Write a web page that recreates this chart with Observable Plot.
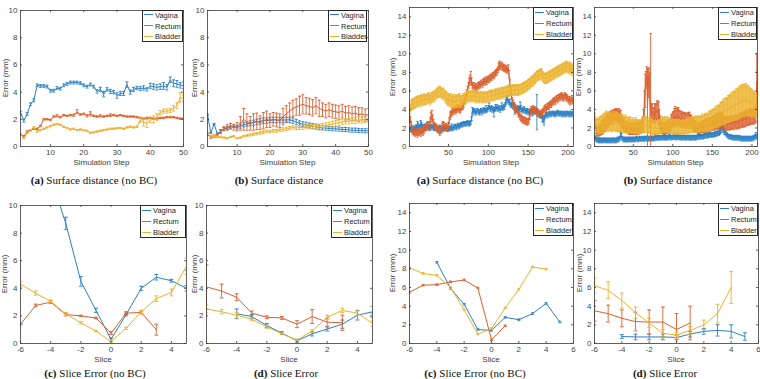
<!DOCTYPE html>
<html><head><meta charset="utf-8">
<script src="https://cdn.jsdelivr.net/npm/d3@7"></script>
<script src="https://cdn.jsdelivr.net/npm/@observablehq/plot@0.6"></script>
<style>
body{margin:0;background:#fff;}
#fig{position:relative;width:760px;height:379px;overflow:hidden;font-family:"Liberation Sans",Arial,sans-serif;background:#fff;}
#fig svg{position:absolute;left:0;top:0;}
.lg{position:absolute;background:#fff;border:1px solid #262626;box-sizing:border-box;font-size:7.5px;color:#262626;}
.lg .row{position:absolute;left:1px;white-space:nowrap;line-height:8px;height:8px;}
.lg .sw{display:inline-block;width:9px;height:1px;vertical-align:middle;margin-right:2px;position:relative;top:-1px;}
.ttl{position:absolute;font-size:8px;color:#404040;white-space:nowrap;transform:translate(-50%,-50%);line-height:1;}
.yl{transform:translate(-50%,-50%) rotate(-90deg);}
.cap{position:absolute;font-family:"Liberation Serif","Times New Roman",serif;font-size:11px;color:#111;white-space:nowrap;transform:translate(-50%,-50%);line-height:1;}
</style></head>
<body><div id="fig"></div>
<script>
const organs = ["Vagina","Rectum","Bladder"];
const colors = ["#2b80c4","#d9602e","#ebb22c"];
const slices = [-6,-5,-4,-3,-2,-1,0,1,2,3,4,5];

// ---- (a) left: surface distance (no BC), 50 steps
const aVag = [2.5,1.9,2.4,3.1,3.4,4.5,4.45,4.45,4.4,4.1, 4.1,4.3,4.25,4.5,4.6,4.7,4.7,4.7,4.65,4.5, 4.4,4.55,4.4,4.05,4.2,3.85,4.2,4.05,4.0,3.75, 3.9,3.9,4.55,4.0,4.2,4.3,4.25,4.3,4.2,4.45, 4.4,4.35,4.4,4.45,4.35,4.9,4.65,4.6,4.5,4.5];
const aVagErr = [0.1,0.1,0.1,0.1,0.1,0.1,0.1,0.1,0.1,0.1, 0.1,0.1,0.1,0.1,0.1,0.1,0.1,0.1,0.1,0.1, 0.1,0.1,0.1,0.12,0.15,0.2,0.12,0.15,0.12,0.2, 0.15,0.15,0.2,0.15,0.15,0.12,0.15,0.15,0.12,0.2, 0.2,0.2,0.2,0.25,0.2,0.2,0.25,0.25,0.2,0.25];
const aRec = [0.9,0.75,1.1,1.2,1.3,1.3,1.5,2.0,2.0,1.95, 2.2,2.25,2.15,2.3,2.25,2.3,2.3,2.55,2.35,2.4, 2.25,2.4,2.25,2.2,2.25,2.2,2.25,2.3,2.3,2.25, 2.3,2.25,2.2,2.2,2.2,2.15,2.1,2.05,2.1,2.1, 2.05,2.05,2.1,2.1,2.15,2.15,2.15,2.1,2.05,2.05];
const aRecErr = [0.05,0.05,0.05,0.05,0.05,0.05,0.05,0.05,0.05,0.05, 0.05,0.08,0.05,0.05,0.05,0.05,0.08,0.15,0.05,0.05, 0.08,0.15,0.05,0.05,0.08,0.05,0.05,0.1,0.05,0.05, 0.05,0.05,0.05,0.05,0.05,0.05,0.05,0.05,0.05,0.05, 0.05,0.05,0.05,0.05,0.05,0.05,0.05,0.05,0.05,0.05];
const aBla = [0.9,0.6,1.0,1.2,1.4,1.1,1.2,1.3,1.4,1.5, 1.6,1.65,1.6,1.45,1.35,1.25,1.3,1.2,1.25,1.2, 1.15,1.0,1.05,1.1,1.15,1.2,1.25,1.3,1.3,1.35, 1.35,1.3,1.4,1.45,1.4,1.45,1.95,1.8,1.7,1.95, 2.0,2.15,2.5,2.6,2.6,2.65,2.8,3.0,3.6,3.55];
const aBlaErr = [0.05,0.05,0.05,0.05,0.05,0.05,0.05,0.05,0.05,0.05, 0.05,0.05,0.05,0.05,0.05,0.05,0.05,0.05,0.05,0.05, 0.05,0.05,0.05,0.05,0.05,0.05,0.05,0.05,0.05,0.05, 0.05,0.05,0.05,0.05,0.05,0.05,0.2,0.3,0.3,0.2, 0.25,0.25,0.15,0.15,0.15,0.15,0.2,0.2,0.35,0.25];

// ---- (b) left: surface distance, 50 steps
const bVag = [2.35,1.0,1.65,0.95,1.1,1.3,1.35,1.4,1.5,1.4, 1.5,1.6,1.65,1.7,1.75,1.8,1.85,1.9,1.9,1.95, 1.95,1.95,1.95,1.95,1.95,1.95,1.9,1.8,1.7,1.65, 1.6,1.55,1.5,1.45,1.4,1.38,1.35,1.32,1.3,1.3, 1.28,1.25,1.25,1.22,1.2,1.2,1.18,1.16,1.15,1.15];
const bVagErr = [0.05,0.05,0.05,0.05,0.08,0.1,0.1,0.1,0.12,0.12, 0.15,0.15,0.15,0.18,0.18,0.2,0.2,0.2,0.2,0.2, 0.2,0.2,0.2,0.2,0.2,0.2,0.2,0.2,0.18,0.18, 0.18,0.18,0.18,0.18,0.18,0.15,0.15,0.15,0.15,0.15, 0.15,0.15,0.15,0.15,0.15,0.15,0.15,0.15,0.15,0.15];
const bRec = [0.9,0.7,0.75,0.8,1.1,1.3,1.4,1.5,1.4,1.45, 1.7,2.0,1.8,1.7,1.8,1.85,1.75,1.9,2.0,1.9, 2.0,1.95,1.9,2.2,2.4,2.6,2.8,2.9,3.0,3.1, 3.0,2.95,2.85,3.0,2.8,2.7,2.6,2.7,2.6,2.55, 2.5,2.6,2.45,2.5,2.4,2.45,2.35,2.4,2.3,2.35];
const bRecErr = [0.1,0.1,0.1,0.1,0.15,0.15,0.2,0.2,0.2,0.3, 0.5,0.8,0.6,0.5,0.6,0.6,0.5,0.6,0.6,0.5, 0.5,0.5,0.5,0.6,0.6,0.6,0.6,0.6,0.7,0.7, 0.6,0.6,0.6,0.6,0.6,0.5,0.5,0.5,0.5,0.5, 0.5,0.5,0.5,0.5,0.5,0.5,0.5,0.45,0.45,0.45];
const bBla = [1.0,0.75,0.75,0.7,0.7,0.65,0.6,0.7,0.75,0.6, 0.65,0.75,0.8,0.85,0.9,0.95,1.0,1.05,1.1,1.1, 1.15,1.15,1.2,1.25,1.3,1.35,1.4,1.35,1.4,1.4, 1.45,1.45,1.45,1.5,1.5,1.55,1.55,1.6,1.65,1.7, 1.75,1.8,1.85,1.85,1.9,1.9,1.95,1.95,2.0,2.0];
const bBlaErr = [0.05,0.05,0.05,0.05,0.05,0.05,0.05,0.05,0.05,0.05, 0.05,0.05,0.08,0.08,0.08,0.08,0.1,0.1,0.1,0.1, 0.1,0.1,0.1,0.12,0.12,0.12,0.12,0.12,0.15,0.15, 0.15,0.15,0.15,0.15,0.15,0.15,0.18,0.18,0.2,0.2, 0.2,0.2,0.2,0.2,0.2,0.22,0.22,0.22,0.22,0.22];

// ---- (a) right: surface distance (no BC), 207 steps
const cVag = [1.8,1.9,1.8,2.0,1.9,1.8,2.0,1.9,2.1,2.0, 2.3,2.2,2.0,2.1,2.4,2.3,2.2,2.1,2.0,2.2, 2.1,2.0,2.3,2.2,2.0,1.9,2.1,2.0,2.2,2.1, 2.0,1.9,2.0,2.1,2.0,1.8,1.9,2.0,2.1,1.9, 2.0,1.9,1.8,1.9,2.0,1.9,2.0,1.9,1.8,1.9, 2.0,1.9,2.0,2.1,1.9,2.0,2.1,2.2,2.1,2.0, 2.2,2.3,2.1,2.2,2.3,2.4,2.3,2.4,2.5,2.4, 2.5,2.4,2.5,2.6,2.5,2.4,2.5,2.6,3.0,3.9, 3.7,3.9,3.8,3.6,3.7,3.9,3.8,3.7,3.6,3.8, 3.9,3.7,3.8,4.0,3.9,3.8,4.1,3.9,4.0,4.2, 4.4,4.1,4.0,4.2,3.9,4.1,3.7,4.0,4.2,4.1, 4.3,4.0,4.2,4.1,3.9,4.2,4.4,4.1,4.3,4.2, 4.5,4.8,5.0,5.2,4.9,4.7,4.8,4.5,4.4,4.6, 4.3,4.2,4.1,4.3,4.0,3.9,4.2,4.1,4.0,4.4, 4.1,3.9,4.0,3.8,4.1,3.9,3.7,3.8,3.9,3.6, 3.8,3.6,3.7,3.9,3.5,3.6,3.8,3.7,3.9,3.8, 3.7,3.6,3.5,3.4,3.3,3.5,3.2,3.0,2.9,2.8, 3.2,3.4,3.5,3.3,3.4,3.5,3.6,3.4,3.5,3.6, 3.5,3.6,3.5,3.4,3.6,3.5,3.7,3.6,3.5,3.6, 3.5,3.6,3.4,3.5,3.6,3.5,3.4,3.6,3.5,3.6, 3.5,3.4,3.6,3.5,3.4,3.6,3.5];
const cVagErr = [0.2,0.2,0.2,0.3,0.2,0.2,0.2,0.2,0.2,0.3, 0.4,0.3,0.3,0.2,0.4,0.3,0.2,0.2,0.3,0.2, 0.2,0.2,0.3,0.2,0.2,0.2,0.2,0.2,0.2,0.2, 0.2,0.2,0.2,0.2,0.2,0.2,0.2,0.2,0.2,0.2, 0.2,0.2,0.2,0.2,0.2,0.2,0.2,0.2,0.2,0.2, 0.2,0.2,0.2,0.3,0.2,0.2,0.2,0.2,0.2,0.2, 0.2,0.2,0.2,0.2,0.2,0.2,0.2,0.2,0.2,0.2, 0.2,0.2,0.2,0.2,0.2,0.2,0.2,0.2,0.2,0.3, 0.3,0.2,0.2,0.2,0.2,0.2,0.2,0.2,0.2,0.2, 0.2,0.3,0.2,0.2,0.2,0.2,0.3,0.2,0.2,0.2, 0.3,0.2,0.2,0.2,0.2,0.2,0.5,0.2,0.3,0.2, 0.2,0.2,0.2,0.2,0.2,0.2,0.3,0.2,0.2,0.2, 0.2,0.3,0.3,0.3,0.2,0.2,0.3,0.2,0.2,0.2, 0.2,0.2,0.6,0.2,0.2,0.2,0.2,0.2,0.2,0.4, 0.3,0.2,0.2,0.2,0.2,0.2,0.2,0.2,0.2,0.2, 0.2,0.2,0.2,0.2,0.2,0.2,0.2,0.2,0.2,0.2, 1.9,0.3,0.2,0.2,0.2,0.2,0.2,0.3,0.3,0.5, 0.2,0.2,0.2,0.2,0.2,0.2,0.2,0.2,0.2,0.2, 0.2,0.2,0.2,0.2,0.2,0.2,0.2,0.2,0.2,0.2, 0.2,0.2,0.2,0.2,0.2,0.2,0.2,0.2,0.2,0.2, 0.2,0.2,0.2,0.2,0.2,0.2,0.2];
const cRec = [3.1,2.9,2.4,1.8,1.6,1.7,1.5,1.4,1.6,1.5, 1.3,1.6,1.5,1.7,1.4,1.6,1.8,1.5,1.7,1.9, 2.1,2.0,2.2,2.4,2.1,2.3,2.7,3.2,3.4,3.0, 2.6,2.3,2.2,2.0,2.1,1.9,1.8,1.7,1.6,1.7, 1.8,2.2,2.4,2.3,2.1,2.0,2.2,2.1,2.0,2.3, 2.8,3.3,3.5,3.6,3.8,3.7,3.9,4.0,3.8,4.1, 4.0,4.2,4.1,3.9,4.0,4.2,4.4,4.3,4.5,4.8, 5.0,5.4,5.8,6.2,6.6,7.0,7.2,7.5,7.0,6.6, 6.4,6.6,6.3,6.5,6.2,6.4,6.6,6.5,6.7,6.6, 6.8,6.9,6.7,7.0,7.1,6.9,7.2,7.0,7.2,7.3, 7.2,7.4,7.5,7.4,7.6,7.7,7.6,7.8,7.9,8.0, 8.1,8.3,8.6,8.8,8.7,8.6,8.8,8.5,8.6,8.4, 8.5,8.3,8.4,8.2,8.5,7.8,6.8,6.0,5.4,5.0, 4.7,4.4,4.2,4.0,3.9,4.0,3.7,3.5,3.4,3.2, 3.1,3.0,2.9,2.8,2.9,2.7,2.8,2.7,2.6,2.7, 2.8,3.2,3.8,4.0,3.9,4.1,3.9,4.0,3.8,3.9, 3.8,3.6,3.7,3.5,3.4,3.6,3.5,3.7,3.8,4.0, 4.1,4.2,4.0,4.3,4.4,4.3,4.5,4.6,4.5,4.7, 4.8,4.9,5.0,4.8,5.1,5.2,5.0,5.3,5.2,5.4, 5.3,5.5,5.4,5.2,5.3,5.5,5.4,5.2,5.3,5.1, 4.9,5.1,4.8,5.0,5.2,4.9,5.0];
const cRecErr = [0.4,0.3,0.3,0.3,0.3,0.3,0.3,0.3,0.3,0.3, 0.3,0.3,0.3,0.3,0.3,0.3,0.3,0.3,0.3,0.3, 0.3,0.3,0.3,0.3,0.3,0.3,0.4,0.5,0.5,0.4, 0.3,0.3,0.3,0.3,0.3,0.3,0.3,0.3,0.4,0.3, 0.3,0.3,0.3,0.3,0.3,0.3,0.3,0.3,0.3,0.3, 0.3,0.4,0.3,0.3,0.3,0.3,0.3,0.3,0.3,0.4, 0.3,0.3,0.3,0.3,0.3,0.3,0.3,0.3,0.3,0.3, 0.3,0.3,0.3,0.3,0.3,0.4,0.5,0.6,0.4,0.3, 0.3,0.3,0.3,0.3,0.3,0.3,0.3,0.3,0.3,0.3, 0.3,0.3,0.3,0.3,0.3,0.3,0.3,0.3,0.3,0.3, 0.3,0.3,0.3,0.3,0.3,0.3,0.3,0.3,0.3,0.3, 0.3,0.3,0.4,0.4,0.3,0.3,0.3,0.3,0.3,0.3, 0.3,0.3,0.3,0.3,0.3,0.4,0.4,0.3,0.3,0.3, 0.3,0.3,0.3,0.3,0.3,0.3,0.3,0.3,0.3,0.3, 0.3,0.3,0.3,0.3,0.3,0.3,0.3,0.3,0.3,0.3, 0.3,0.3,0.3,0.3,0.3,0.3,0.3,0.3,0.3,0.3, 0.3,0.3,0.3,0.3,0.3,0.3,0.3,0.3,0.3,0.3, 0.3,0.3,0.3,0.3,0.3,0.3,0.3,0.3,0.3,0.3, 0.3,0.3,0.3,0.3,0.3,0.3,0.3,0.3,0.3,0.3, 0.3,0.3,0.3,0.3,0.3,0.3,0.3,0.3,0.3,0.3, 0.3,0.3,0.3,0.3,0.3,0.3,0.3];
const cBla = [4.0,4.2,4.4,4.6,4.5,4.7,4.6,4.8,4.7,4.9, 4.8,5.0,4.9,4.8,5.0,5.1,4.9,5.0,5.2,5.0, 5.1,5.0,5.2,5.1,5.3,5.2,5.0,5.2,5.3,5.4, 5.3,5.5,5.4,5.6,5.7,5.8,5.9,5.8,6.0,5.9, 5.8,5.7,5.6,5.8,5.5,5.4,5.3,5.2,5.0,5.1, 5.0,4.9,5.1,4.8,4.9,5.0,4.7,4.8,5.0,4.9, 4.8,5.0,4.9,5.1,4.8,4.9,5.0,5.2,5.0,5.1, 5.3,5.2,5.4,5.3,5.5,5.4,5.3,5.5,5.4,5.5, 5.4,5.3,5.5,5.4,5.2,5.3,5.4,5.3,5.2,5.4, 5.3,5.4,5.2,5.3,5.4,5.3,5.2,5.4,5.3,5.4, 5.5,5.4,5.5,5.6,5.4,5.5,5.6,5.5,5.7,5.6, 5.7,5.6,5.8,5.7,5.6,5.8,5.9,5.7,5.8,5.9, 5.8,6.0,5.9,6.0,6.1,5.9,6.0,6.1,6.0,6.1, 6.0,6.2,6.1,6.0,6.1,6.2,6.0,6.1,6.2,6.1, 6.2,6.3,6.2,6.4,6.3,6.5,6.4,6.6,6.5,6.7, 6.8,6.7,6.9,7.0,7.1,7.0,7.2,7.3,7.4,7.5, 7.6,7.7,7.6,7.8,7.7,7.9,7.8,7.6,7.5,7.4, 7.3,7.4,7.3,7.5,7.4,7.6,7.5,7.7,7.6,7.8, 7.7,7.9,7.8,8.0,7.9,8.1,8.0,8.2,8.1,8.3, 8.2,8.4,8.3,8.5,8.4,8.6,8.5,8.7,8.6,8.5, 8.4,8.6,8.3,8.5,8.2,8.4,8.3];
const cBlaErr = [0.4,0.4,0.5,0.5,0.5,0.5,0.5,0.5,0.5,0.5, 0.5,0.5,0.5,0.5,0.5,0.5,0.5,0.5,0.5,0.5, 0.5,0.5,0.5,0.5,0.5,0.5,0.5,0.5,0.5,0.5, 0.5,0.5,0.5,0.5,0.5,0.5,0.5,0.5,0.5,0.5, 0.5,0.5,0.5,0.5,0.5,0.6,0.6,0.6,0.6,0.6, 0.6,0.6,0.6,0.6,0.6,0.6,0.6,0.6,0.6,0.6, 0.6,0.6,0.6,0.6,0.6,0.6,0.5,0.5,0.5,0.5, 0.5,0.5,0.5,0.5,0.5,0.5,0.5,0.5,0.5,0.5, 0.5,0.5,0.5,0.5,0.5,0.5,0.5,0.5,0.5,0.5, 0.5,0.5,0.5,0.5,0.5,0.5,0.5,0.5,0.5,0.5, 0.5,0.5,0.5,0.5,0.5,0.5,0.5,0.5,0.5,0.5, 0.5,0.5,0.5,0.5,0.5,0.5,0.5,0.5,0.5,0.5, 0.5,0.5,0.5,0.5,0.5,0.5,0.5,0.5,0.5,0.5, 0.5,0.5,0.5,0.5,0.5,0.5,0.5,0.5,0.5,0.5, 0.5,0.5,0.5,0.5,0.5,0.5,0.5,0.5,0.5,0.5, 0.5,0.5,0.5,0.5,0.5,0.5,0.5,0.5,0.5,0.5, 0.5,0.5,0.5,0.5,0.5,0.5,0.5,0.5,0.5,0.5, 0.5,0.5,0.5,0.5,0.5,0.5,0.5,0.5,0.5,0.5, 0.5,0.5,0.5,0.5,0.5,0.5,0.5,0.5,0.5,0.5, 0.5,0.5,0.5,0.5,0.5,0.5,0.5,0.5,0.5,0.5, 0.5,0.5,0.5,0.5,0.5,0.5,0.5];

// ---- (b) right: surface distance, 207 steps
const dVag = [1.0,0.9,0.8,0.7,0.7,0.6,0.7,0.6,0.7,0.6, 0.7,0.6,0.7,0.7,0.6,0.7,0.6,0.7,0.6,0.7, 0.6,0.7,0.6,0.7,0.7,0.6,0.7,0.6,0.7,0.8, 0.7,0.8,0.9,1.2,1.1,0.9,0.8,0.7,0.8,0.7, 0.8,0.7,0.8,0.7,0.8,0.8,0.7,0.8,0.7,0.8, 0.8,0.7,0.8,0.9,0.8,0.7,0.8,0.9,0.8,0.8, 0.9,0.8,0.8,0.9,0.8,0.9,0.8,0.9,0.8,0.9, 0.8,0.9,0.8,0.9,0.9,0.8,0.9,1.0,0.9,0.9, 1.0,0.9,1.0,0.9,1.0,0.9,1.0,1.0,0.9,1.0, 0.9,1.0,1.0,0.9,1.0,1.1,1.0,0.9,1.0,1.0, 1.0,1.1,1.0,0.9,1.0,1.1,1.0,1.0,0.9,1.0, 1.0,0.9,1.0,1.0,0.9,1.0,0.9,1.0,1.0,0.9, 1.0,0.9,1.0,0.9,1.0,1.0,0.9,1.0,0.9,1.0, 1.0,1.1,1.0,1.1,1.0,1.1,1.1,1.0,1.1,1.2, 1.1,1.2,1.3,1.1,1.2,1.3,1.2,1.3,1.2,1.3, 1.3,1.2,1.3,1.4,1.3,1.4,1.5,1.4,1.6,1.7, 1.9,2.3,2.0,1.8,1.6,1.5,1.4,1.3,1.2,1.1, 1.1,1.0,1.1,1.0,1.0,0.9,1.0,0.9,1.0,0.9, 1.0,0.9,0.9,1.0,0.9,0.8,0.9,0.8,0.9,0.8, 0.9,0.8,0.9,0.8,0.9,0.8,0.9,0.8,0.9,0.8, 0.9,1.0,0.9,1.1,1.2,1.0,1.1];
const dVagErr = [0.2,0.2,0.2,0.2,0.2,0.2,0.2,0.2,0.2,0.2, 0.2,0.2,0.2,0.2,0.2,0.2,0.2,0.2,0.2,0.2, 0.2,0.2,0.2,0.2,0.2,0.2,0.2,0.2,0.2,0.2, 0.2,0.2,0.2,0.3,0.3,0.2,0.2,0.2,0.2,0.2, 0.2,0.2,0.2,0.2,0.2,0.2,0.2,0.2,0.2,0.2, 0.2,0.2,0.2,0.2,0.2,0.2,0.2,0.2,0.2,0.2, 0.2,0.2,0.2,0.2,0.2,0.2,0.2,0.2,0.2,0.2, 0.2,0.2,0.2,0.2,0.2,0.2,0.2,0.2,0.2,0.2, 0.2,0.2,0.2,0.2,0.2,0.2,0.2,0.2,0.2,0.2, 0.2,0.2,0.2,0.2,0.2,0.2,0.2,0.2,0.2,0.2, 0.2,0.2,0.2,0.2,0.2,0.2,0.2,0.2,0.2,0.2, 0.2,0.2,0.2,0.2,0.2,0.2,0.2,0.2,0.2,0.2, 0.2,0.2,0.2,0.2,0.2,0.2,0.2,0.2,0.2,0.2, 0.2,0.2,0.2,0.2,0.2,0.2,0.2,0.2,0.2,0.2, 0.2,0.2,0.2,0.2,0.2,0.2,0.2,0.2,0.2,0.2, 0.2,0.2,0.2,0.2,0.2,0.2,0.2,0.2,0.3,0.3, 0.4,0.5,0.4,0.3,0.3,0.2,0.2,0.2,0.2,0.2, 0.2,0.2,0.2,0.2,0.2,0.2,0.2,0.2,0.2,0.2, 0.2,0.2,0.2,0.2,0.2,0.2,0.2,0.2,0.2,0.2, 0.2,0.2,0.2,0.2,0.2,0.2,0.2,0.2,0.2,0.2, 0.2,0.2,0.2,0.2,0.3,0.2,0.2];
const dRec = [3.2,2.4,1.8,1.6,1.5,1.7,1.6,1.8,1.9,2.0, 2.1,2.2,2.4,2.3,2.5,2.6,2.8,2.7,2.9,3.0, 3.1,3.0,3.2,3.3,3.2,3.4,3.3,3.5,3.4,3.3, 3.2,3.4,3.1,2.9,2.8,2.6,2.5,2.3,2.2,2.1, 2.0,2.1,1.9,2.0,1.8,1.9,1.8,2.0,1.9,1.8, 1.9,2.0,1.8,1.9,2.0,1.9,2.1,2.0,1.9,2.1, 2.2,2.4,3.0,4.5,6.0,7.2,7.6,4.2,6.8,7.8, 5.0,4.2,3.6,3.8,3.5,3.3,3.6,3.8,3.7,3.9, 4.0,3.6,3.2,2.6,2.2,2.0,1.9,2.0,1.8,1.9, 2.0,1.9,2.1,2.2,2.1,2.3,2.4,2.6,2.8,2.9, 3.0,3.2,3.3,3.1,3.2,3.4,3.3,3.1,3.0,2.9, 3.0,2.9,2.8,3.0,2.9,2.8,2.7,2.9,2.8,2.9, 3.0,2.8,2.7,2.6,2.5,2.4,2.3,2.2,2.1,2.0, 2.0,1.9,2.0,1.9,2.0,2.1,2.0,2.1,2.2,2.1, 2.2,2.3,2.2,2.3,2.4,2.3,2.4,2.5,2.4,2.5, 2.5,2.6,2.5,2.6,2.7,2.6,2.7,2.8,2.7,2.8, 2.9,2.8,2.7,2.6,2.5,2.4,2.5,2.4,2.5,2.4, 2.5,2.4,2.5,2.6,2.5,2.6,2.5,2.6,2.7,2.6, 2.7,2.6,2.7,2.8,2.7,2.8,2.9,2.8,2.9,3.0, 2.9,3.0,3.1,3.0,3.1,3.2,3.1,3.2,3.3,3.2, 3.3,3.2,3.4,3.3,3.5,7.0,3.4];
const dRecErr = [0.4,0.5,0.4,0.4,0.5,0.5,0.6,0.6,0.6,0.7, 0.7,0.7,0.6,0.7,0.8,0.7,0.7,0.6,0.7,0.6, 0.7,0.6,0.7,0.6,0.7,0.6,0.7,0.6,0.6,0.7, 0.6,0.7,0.8,1.0,0.6,0.6,0.5,0.6,0.5,0.6, 0.5,0.6,0.5,0.6,0.5,0.6,0.5,0.5,0.6,0.5, 0.5,0.6,0.5,0.6,0.5,0.6,0.5,0.6,0.5,0.6, 0.6,0.8,1.0,1.5,1.8,0.9,1.0,4.2,1.5,0.7, 3.0,8.0,1.0,0.8,0.7,0.8,1.0,0.8,0.9,1.0, 0.9,1.2,0.8,0.7,0.6,0.5,0.5,0.6,0.5,0.6, 0.6,0.5,0.6,0.6,0.7,0.6,0.7,0.8,0.7,0.8, 0.8,0.9,1.0,0.8,0.9,0.8,0.9,0.8,0.8,0.7, 0.8,0.7,0.8,0.7,0.7,0.8,0.7,0.7,0.8,0.7, 0.7,0.6,0.7,0.6,0.6,0.6,0.5,0.6,0.5,0.5, 0.5,0.5,0.6,0.5,0.5,0.6,0.5,0.6,0.6,0.6, 0.6,0.7,0.6,0.7,0.6,0.7,0.7,0.6,0.7,0.7, 0.7,0.7,0.8,0.7,0.8,0.7,0.8,0.8,0.7,0.8, 0.8,0.8,0.7,0.7,0.7,0.6,0.7,0.6,0.7,0.6, 0.7,0.6,0.7,0.7,0.6,0.7,0.7,0.6,0.7,0.7, 0.7,0.7,0.7,0.8,0.7,0.7,0.8,0.7,0.8,0.8, 0.8,0.8,0.8,0.7,0.8,0.8,0.8,0.8,0.8,0.8, 0.8,0.8,0.8,0.8,0.8,3.0,0.8];
const dBla = [2.9,2.6,2.4,2.2,2.3,2.1,2.3,2.4,2.3,2.5, 2.4,2.6,2.5,2.7,2.6,2.8,2.7,2.6,2.8,2.7, 2.6,2.7,2.5,2.6,2.8,2.7,2.6,2.5,2.7,2.6, 2.5,2.6,2.4,2.5,2.6,2.4,2.5,2.3,2.4,2.5, 2.3,2.4,2.2,2.3,2.4,2.2,2.3,2.1,2.2,2.3, 2.2,2.1,2.3,2.2,2.1,2.2,2.0,2.1,2.2,2.1, 2.3,2.2,2.4,2.3,2.2,2.4,2.3,2.2,2.1,2.3, 2.4,2.3,2.2,2.1,2.0,1.9,2.0,2.1,2.0,1.9, 2.0,2.1,2.2,2.1,2.3,2.2,2.4,2.3,2.2,2.4, 2.3,2.2,2.4,2.3,2.2,2.1,2.3,2.2,2.1,2.2, 2.1,2.2,2.0,2.1,2.2,2.1,2.0,2.2,2.1,2.0, 2.1,2.2,2.1,2.0,2.2,2.1,2.3,2.2,2.1,2.3, 2.2,2.3,2.2,2.4,2.3,2.2,2.4,2.3,2.5,2.4, 2.3,2.5,2.4,2.3,2.5,2.4,2.6,2.5,2.4,2.6, 2.5,2.7,2.6,2.5,2.7,2.8,2.7,2.9,2.8,3.0, 2.9,3.1,3.0,3.2,3.1,3.3,3.2,3.4,3.3,3.5, 3.6,3.5,3.7,3.8,3.6,3.9,3.8,4.0,3.9,4.1, 4.0,4.2,4.1,4.3,4.2,4.4,4.3,4.5,4.4,4.6, 4.5,4.7,4.6,4.8,4.7,4.9,4.8,5.0,4.9,5.0, 4.9,5.1,5.0,4.9,5.0,4.8,4.9,4.7,4.8,4.6, 4.7,4.5,4.6,4.4,4.5,4.3,4.4];
const dBlaErr = [0.5,0.6,0.6,0.7,0.7,0.8,0.8,0.8,0.9,0.8, 0.9,0.9,1.0,0.9,1.0,1.0,0.9,1.0,0.9,1.0, 0.9,1.0,0.9,0.9,1.0,0.9,0.9,0.9,1.0,0.9, 0.9,0.9,0.8,0.9,0.9,0.8,0.9,0.8,0.8,0.9, 0.8,0.8,0.8,0.8,0.8,0.7,0.8,0.7,0.7,0.8, 0.7,0.7,0.8,0.7,0.7,0.7,0.7,0.7,0.7,0.7, 0.8,0.7,0.8,0.8,0.7,0.8,0.8,0.7,0.7,0.8, 0.8,0.8,0.7,0.7,0.7,0.6,0.7,0.7,0.7,0.6, 0.7,0.7,0.7,0.7,0.8,0.7,0.8,0.8,0.7,0.8, 0.8,0.7,0.8,0.8,0.7,0.7,0.8,0.7,0.7,0.7, 0.7,0.7,0.7,0.7,0.7,0.7,0.7,0.7,0.7,0.7, 0.7,0.7,0.7,0.7,0.7,0.7,0.8,0.7,0.7,0.8, 0.7,0.8,0.7,0.8,0.8,0.7,0.8,0.8,0.8,0.8, 0.8,0.8,0.8,0.8,0.8,0.8,0.9,0.8,0.8,0.9, 0.9,0.9,0.9,0.9,0.9,1.0,0.9,1.0,1.0,1.0, 1.0,1.0,1.0,1.1,1.0,1.1,1.1,1.1,1.1,1.2, 1.2,1.2,1.2,1.3,1.2,1.3,1.3,1.3,1.3,1.4, 1.4,1.4,1.4,1.5,1.4,1.5,1.5,1.5,1.5,1.6, 1.6,1.6,1.6,1.7,1.6,1.7,1.6,1.7,1.6,1.7, 1.6,1.7,1.6,1.6,1.6,1.5,1.5,1.5,1.4,1.4, 1.4,1.3,1.3,1.3,1.2,1.2,1.2];

// ---- (c) left: slice error (no BC)
const eVag = [null,null,12.1,8.7,4.5,2.4,0.3,2.1,4.0,4.8,4.55,4.0];
const eVagErr = [null,null,0.5,0.45,0.35,0.15,0.1,0.1,0.15,0.2,0.1,0.2];
const eRec = [1.4,2.75,3.0,2.1,2.0,1.85,0.75,2.2,2.25,1.0,null,6.7];
const eRecErr = [0.05,0.1,0.1,0.1,0.05,0.05,0.1,0.1,0.1,0.4,null,1.4];
const eBla = [4.3,3.65,3.05,2.15,1.5,0.9,0.15,1.1,2.3,3.25,3.7,5.6];
const eBlaErr = [0.2,0.15,0.1,0.1,0.08,0.05,0.05,0.08,0.1,0.2,0.25,0.6];
// ---- (d) left: slice error
const fVag = [null,null,2.15,1.95,1.3,0.75,0.2,0.7,1.05,1.4,2.05,2.3];
const fVagErr = [null,null,0.35,0.15,0.15,0.1,0.1,0.15,0.15,0.3,0.35,0.4];
const fRec = [4.1,3.8,3.35,2.2,1.9,1.85,1.4,1.95,1.55,1.5,null,5.1];
const fRecErr = [1.6,0.5,0.25,0.15,0.1,0.1,0.25,0.5,0.3,0.55,null,2.9];
const fBla = [2.5,2.3,2.05,1.75,1.2,0.7,0.25,0.9,1.9,2.4,2.2,1.45];
const fBlaErr = [0.3,0.15,0.2,0.1,0.1,0.05,0.05,0.1,0.15,0.15,0.15,0.2];
// ---- (c) right: slice error (no BC)
const gVag = [null,null,8.7,5.9,4.2,1.5,1.4,2.8,2.55,3.2,4.3,2.3];
const gVagErr = [null,null,0.08,0.08,0.08,0.08,0.08,0.08,0.08,0.08,0.08,0.08];
const gRec = [5.5,6.25,6.3,6.6,6.8,5.95,0.4,1.9,null,null,null,null];
const gRecErr = [0.08,0.08,0.08,0.08,0.08,0.08,0.08,0.08,null,null,null,null];
const gBla = [8.1,7.5,7.3,6.0,3.6,1.0,1.6,3.8,5.8,8.2,7.95,null];
const gBlaErr = [0.08,0.08,0.08,0.08,0.08,0.08,0.08,0.08,0.08,0.08,0.08,null];
// ---- (d) right: slice error
const hVag = [null,null,0.75,0.7,0.7,0.7,0.65,1.0,1.3,1.4,1.3,0.75];
const hVagErr = [null,null,0.2,0.3,0.3,0.3,0.25,0.3,0.3,0.6,0.7,0.4];
const hRec = [3.5,3.2,2.7,2.35,2.3,2.3,1.5,2.2,null,null,null,null];
const hRecErr = [1.1,0.9,0.9,1.0,1.3,1.6,1.7,1.8,null,null,null,null];
const hBla = [6.2,5.7,4.6,3.3,2.2,1.1,0.9,1.4,2.0,3.2,6.0,null];
const hBlaErr = [0.8,0.9,0.8,0.6,0.5,0.4,0.3,0.4,0.5,1.0,1.7,null];

const steps50 = aVag.map((_, i) => i + 1);
const steps207 = cVag.map((_, i) => i + 1);

const panels = [
  {x: steps50, s: [[aVag,aVagErr],[aRec,aRecErr],[aBla,aBlaErr]], xDom:[1,50], yDom:[0,10], xTicks:[10,20,30,40,50], yTicks:[0,2,4,6,8,10], frame:[20,10,183,146], xl:"Simulation Step", xlY:163, ylX:6, lg:[142,10,183,42], cap:["(a)","Surface distance (no BC)"], capX:94, capY:180, r:1.5},
  {x: steps50, s: [[bVag,bVagErr],[bRec,bRecErr],[bBla,bBlaErr]], xDom:[1,50], yDom:[0,10], xTicks:[10,20,30,40,50], yTicks:[0,2,4,6,8,10], frame:[207,10,368,146], xl:"Simulation Step", xlY:163, ylX:195, lg:[328,10,367,42], cap:["(b)","Surface distance"], capX:279, capY:180, r:1.5},
  {x: steps207, s: [[cVag,cVagErr],[cRec,cRecErr],[cBla,cBlaErr]], xDom:[1,207], yDom:[0,15], xTicks:[50,100,150,200], yTicks:[0,2,4,6,8,10,12,14], frame:[409,7,573,146], xl:"Simulation Step", xlY:163, ylX:393, lg:[533,7,573,40], cap:["(a)","Surface distance (no BC)"], capX:480, capY:180, r:1.2},
  {x: steps207, s: [[dVag,dVagErr],[dRec,dRecErr],[dBla,dBlaErr]], xDom:[1,207], yDom:[0,15], xTicks:[50,100,150,200], yTicks:[0,2,4,6,8,10,12,14], frame:[594,7,757,146], xl:"Simulation Step", xlY:163, ylX:579, lg:[718,7,757,40], cap:["(b)","Surface distance"], capX:668, capY:180, r:1.2},
  {x: slices, s: [[eVag,eVagErr],[eRec,eRecErr],[eBla,eBlaErr]], xDom:[-6,5], yDom:[0,10], xTicks:[-6,-4,-2,0,2,4], yTicks:[0,2,4,6,8,10], frame:[20,205,186,343], xl:"Slice", xlY:360, ylX:5, lg:[140,205,186,238], cap:["(c)","Slice Error (no BC)"], capX:95, capY:373, r:2},
  {x: slices, s: [[fVag,fVagErr],[fRec,fRecErr],[fBla,fBlaErr]], xDom:[-6,5], yDom:[0,10], xTicks:[-6,-4,-2,0,2,4], yTicks:[0,2,4,6,8,10], frame:[206,205,372,343], xl:"Slice", xlY:360, ylX:195, lg:[331,205,372,238], cap:["(d)","Slice Error"], capX:286, capY:373, r:2},
  {x: slices, s: [[gVag,gVagErr],[gRec,gRecErr],[gBla,gBlaErr]], xDom:[-6,6], yDom:[0,15], xTicks:[-6,-4,-2,0,2,4,6], yTicks:[0,2,4,6,8,10,12,14], frame:[409,203,573,343], xl:"Slice", xlY:360, ylX:393, lg:[533,203,573,236], cap:["(c)","Slice Error (no BC)"], capX:475, capY:373, r:1.5},
  {x: slices, s: [[hVag,hVagErr],[hRec,hRecErr],[hBla,hBlaErr]], xDom:[-6,6], yDom:[0,15], xTicks:[-6,-4,-2,0,2,4,6], yTicks:[0,2,4,6,8,10,12,14], frame:[594,203,758,343], xl:"Slice", xlY:360, ylX:580, lg:[718,203,758,236], cap:["(d)","Slice Error"], capX:665, capY:373, r:2}
];

const capSymbol = {draw(ctx, size) { const r = Math.sqrt(size / Math.PI); ctx.moveTo(-r, 0); ctx.lineTo(r, 0); }};
const fig = document.getElementById("fig");
const axisColor = "#3a3a3a";

function el(tag, cls, css, html) {
  const e = document.createElement(tag);
  if (cls) e.className = cls;
  Object.assign(e.style, css || {});
  if (html != null) e.innerHTML = html;
  return e;
}

panels.forEach(p => {
  const [fx0, fy0, fx1, fy1] = p.frame;
  const fw = fx1 - fx0, fh = fy1 - fy0;
  const marks = [];
  p.s.forEach(([vals, errs], k) => {
    const rows = vals.map((v, i) => {
      const ok = v != null && errs[i] != null;
      return {x: p.x[i], y: v == null ? NaN : v, lo: ok ? v - errs[i] : NaN, hi: ok ? v + errs[i] : NaN, organ: organs[k]};
    });
    const bars = rows.filter(r => isFinite(r.lo) && isFinite(r.hi));
    marks.push(Plot.line(rows, {x: "x", y: "y", stroke: "organ", strokeWidth: 1, clip: true}));
    marks.push(Plot.ruleX(bars, {x: "x", y1: "lo", y2: "hi", stroke: "organ", strokeWidth: 0.9, clip: true}));
    marks.push(Plot.dot(bars, {x: "x", y: "lo", stroke: "organ", fill: "none", strokeWidth: 0.9, symbol: capSymbol, r: p.r, clip: true}));
    marks.push(Plot.dot(bars, {x: "x", y: "hi", stroke: "organ", fill: "none", strokeWidth: 0.9, symbol: capSymbol, r: p.r, clip: true}));
  });
  marks.push(Plot.frame({stroke: axisColor, strokeWidth: 0.8}));
  marks.push(Plot.tickX(p.xTicks, {x: d => d, insetTop: fh - 2, stroke: axisColor, strokeWidth: 0.8}));
  marks.push(Plot.tickX(p.xTicks, {x: d => d, insetBottom: fh - 2, stroke: axisColor, strokeWidth: 0.8}));
  marks.push(Plot.tickY(p.yTicks, {y: d => d, insetRight: fw - 2, stroke: axisColor, strokeWidth: 0.8}));
  marks.push(Plot.tickY(p.yTicks, {y: d => d, insetLeft: fw - 2, stroke: axisColor, strokeWidth: 0.8}));
  marks.push(Plot.axisX({ticks: p.xTicks, tickSize: 0, tickPadding: 3, tickFormat: d => String(d), label: null}));
  marks.push(Plot.axisY({ticks: p.yTicks, tickSize: 0, tickPadding: 3, tickFormat: d => String(d), label: null}));

  const svg = Plot.plot({
    width: 760, height: 379,
    marginLeft: fx0, marginRight: 760 - fx1, marginTop: fy0, marginBottom: 379 - fy1,
    style: {fontFamily: '"Liberation Sans", Arial, sans-serif', fontSize: "8px", color: "#444", background: "transparent", overflow: "visible"},
    x: {domain: p.xDom},
    y: {domain: p.yDom},
    color: {domain: organs, range: colors},
    marks
  });
  fig.appendChild(svg);

  // axis titles
  fig.appendChild(el("div", "ttl", {left: (fx0 + fx1) / 2 + "px", top: p.xlY + "px"}, p.xl));
  fig.appendChild(el("div", "ttl yl", {left: p.ylX + "px", top: (fy0 + fy1) / 2 + "px"}, "Error (mm)"));

  // legend
  const [lx0, ly0, lx1, ly1] = p.lg;
  const lg = el("div", "lg", {left: lx0 + "px", top: ly0 + "px", width: (lx1 - lx0) + "px", height: (ly1 - ly0) + "px"});
  const rowH = (ly1 - ly0) / 3;
  organs.forEach((o, k) => {
    const row = el("div", "row", {top: (rowH * k + rowH / 2 - 4.5) + "px"});
    row.appendChild(el("span", "sw", {background: colors[k]}));
    row.appendChild(document.createTextNode(o));
    lg.appendChild(row);
  });
  fig.appendChild(lg);

  // caption
  fig.appendChild(el("div", "cap", {left: p.capX + "px", top: p.capY + "px"}, "<b>" + p.cap[0] + "</b> " + p.cap[1]));
});
</script>
</body></html>
